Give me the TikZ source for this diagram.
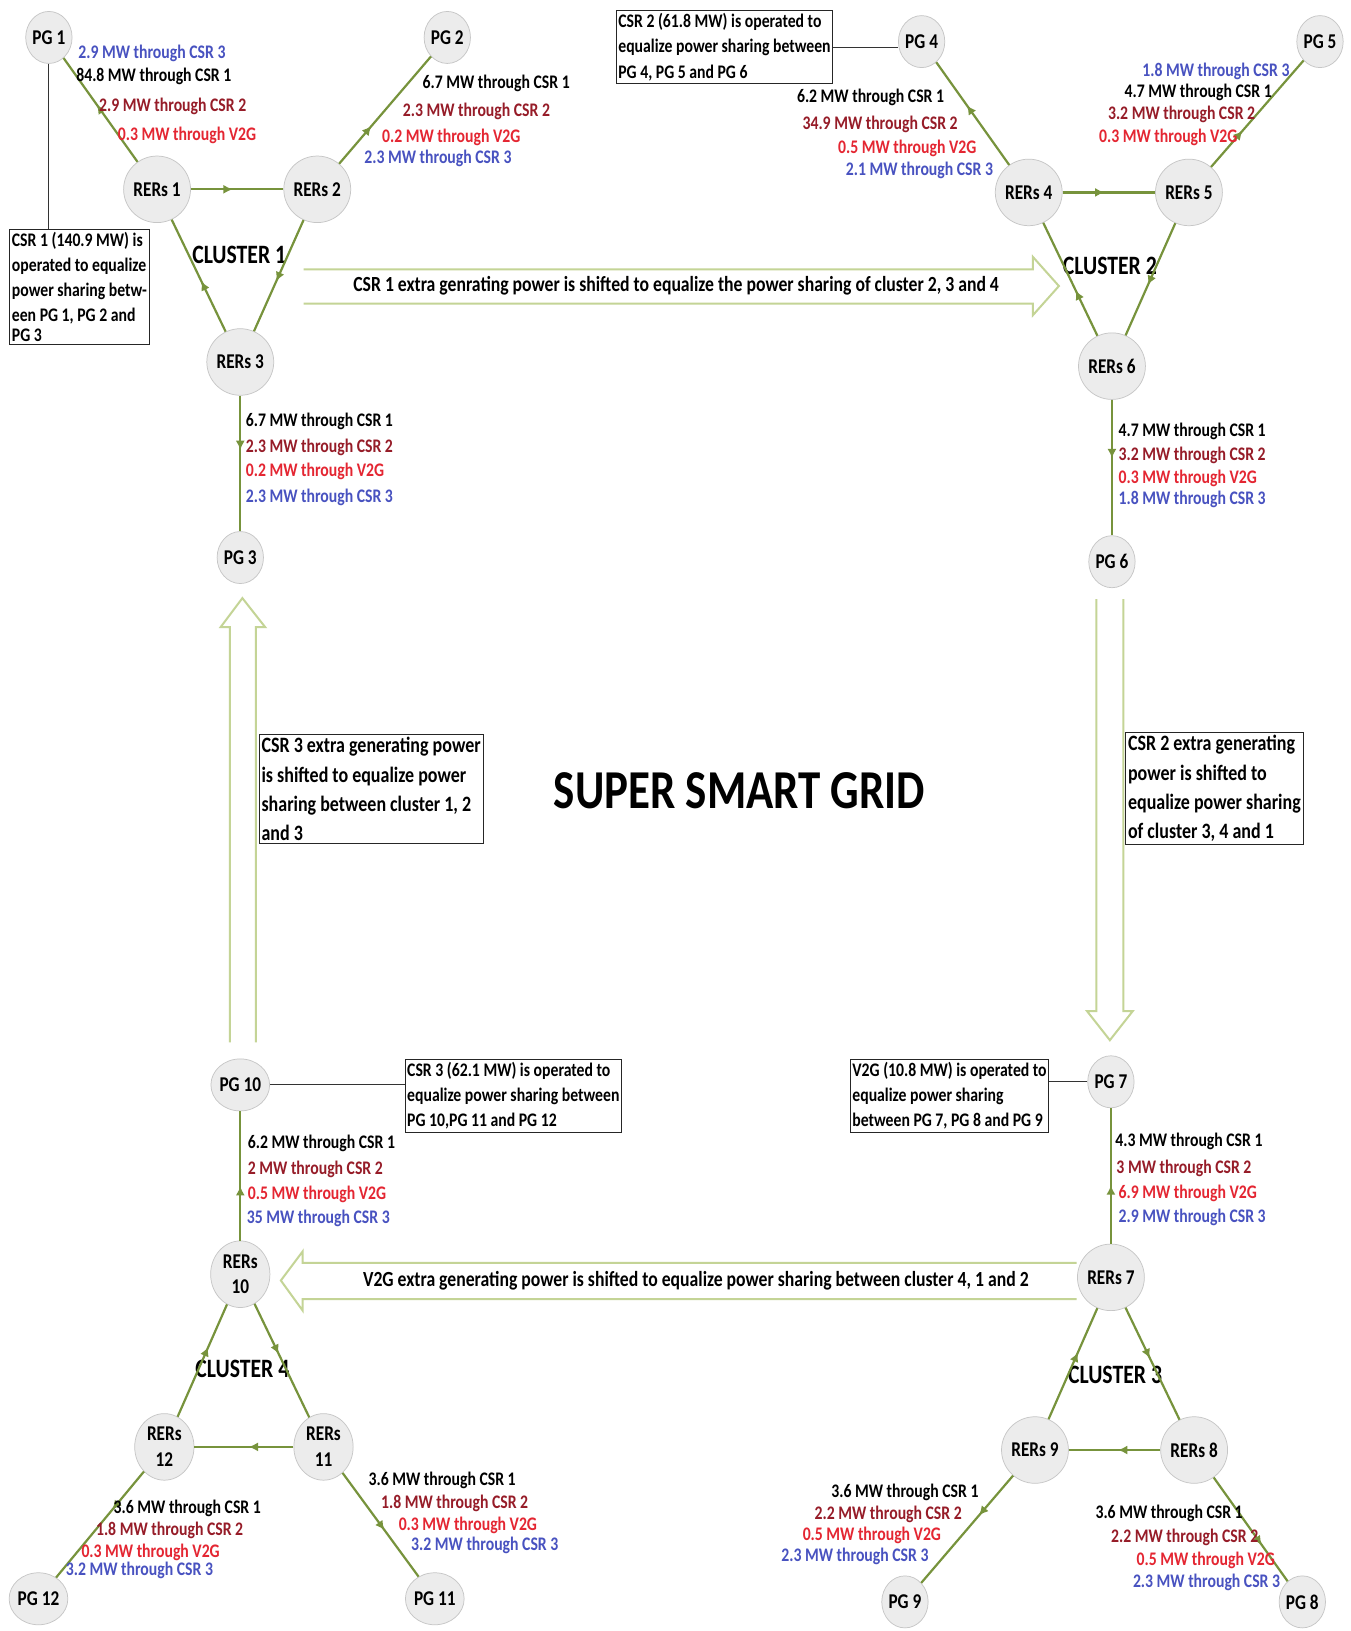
\documentclass[tikz,border=0pt]{standalone}
\usepackage{fontspec}
\setmainfont{Carlito}[FakeStretch=0.82]
\usetikzlibrary{shapes.geometric,decorations.markings,arrows.meta}
\definecolor{linegreen}{RGB}{119,147,60}
\definecolor{blockgreen}{RGB}{196,212,150}
\definecolor{csrtwo}{RGB}{150,28,40}
\definecolor{vtwog}{RGB}{228,38,50}
\definecolor{csrthree}{RGB}{72,82,192}
\definecolor{nodegray}{RGB}{236,236,236}

\begin{document}
\begin{tikzpicture}[x=0.02cm,y=-0.02cm]
    \tikzstyle{pg}=[ellipse, draw=gray!45, fill=nodegray, minimum width=0.86cm, minimum height=1cm, inner sep=0pt, font=\fontsize{11.5}{12}\selectfont\bfseries]
    \tikzstyle{rers}=[pg, minimum width=1.14cm, minimum height=1.28cm]
    \tikzstyle{mw}=[inner sep=0pt, font=\fontsize{10.5}{12}\selectfont\bfseries]
    \tikzstyle{note}=[draw=black!85, align=left, inner xsep=1.2pt, inner ysep=1.5pt, font=\fontsize{10.5}{13.8}\selectfont\bfseries]
    \tikzstyle{bignote}=[note, font=\fontsize{12}{16}\selectfont\bfseries]
    \tikzstyle{shifttext}=[inner sep=0pt, font=\fontsize{11.8}{13}\selectfont\bfseries]
    \tikzstyle{cluster}=[inner sep=0pt, font=\fontsize{14.5}{18}\selectfont\bfseries]
    \tikzstyle{blockarrow}=[draw=blockgreen, line width=1.1pt, line join=miter]
    \tikzstyle{tie}=[draw=black!80, line width=0.6pt]
    \tikzset{flow/.style={color=linegreen, line width=1.2pt, postaction={decorate},
      decoration={markings, mark=at position #1 with {\arrow{Latex[length=5pt,width=5pt]}}}},
      flow/.default=0.5}
    \path[fill=white] (0,0) rectangle (1298,1568);
    \useasboundingbox (0,0) rectangle (1298,1568);

    % cluster 1
    \node[pg] (p1) at (47,36) {PG 1};
    \node[pg] (p2) at (430,36) {PG 2};
    \node[rers] (r1) at (151,182) {RERs 1};
    \node[rers] (r2) at (305,182) {RERs 2};
    \node[rers] (r3) at (231,348) {RERs 3};
    \node[pg] (p3) at (231,536) {PG 3};
    \node[cluster] (c1) at (230,245) {CLUSTER 1};
    \draw[flow=0.55] (r1) -- (p1);
    \draw[flow=0.35] (r2) -- (p2);
    \draw[flow=0.45] (r1) -- (r2);
    \draw[flow=0.55] (r2) -- (r3);
    \draw[flow=0.45] (r3) -- (r1);
    \draw[flow=0.4] (r3) -- (p3);

    % cluster 2
    \node[pg] (p4) at (886,40) {PG 4};
    \node[pg] (p5) at (1269,40) {PG 5};
    \node[rers] (r4) at (989,185) {RERs 4};
    \node[rers] (r5) at (1143,185) {RERs 5};
    \node[rers] (r6) at (1069,352) {RERs 6};
    \node[pg] (p6) at (1069,540) {PG 6};
    \node[cluster] (c2) at (1067,256) {CLUSTER 2};
    \draw[flow=0.58] (r4) -- (p4);
    \draw[flow=0.34] (r5) -- (p5);
    \draw[flow=0.45] (r4) -- (r5);
    \draw[flow=0.55] (r5) -- (r6);
    \draw[flow=0.4] (r6) -- (r4);
    \draw[flow=0.43] (r6) -- (p6);

    % cluster 3
    \node[pg] (p7) at (1068,1040) {PG 7};
    \node[rers] (r7) at (1068,1228) {RERs 7};
    \node[rers] (r8) at (1148,1394) {RERs 8};
    \node[rers] (r9) at (995,1394) {RERs 9};
    \node[pg] (p8) at (1252,1540) {PG 8};
    \node[pg] (p9) at (870,1540) {PG 9};
    \node[cluster] (c3) at (1072,1322) {CLUSTER 3};
    \draw[flow=0.43] (r7) -- (p7);
    \draw[flow=0.6] (r9) -- (r7);
    \draw[flow=0.45] (r7) -- (r8);
    \draw[flow=0.46] (r8) -- (r9);
    \draw[flow=0.37] (r9) -- (p9);
    \draw[flow=0.65] (r8) -- (p8);

    % cluster 4
    \node[pg] (p10) at (231,1043) {PG 10};
    \node[rers, align=center] (r10) at (231,1225) {RERs\\[2pt]10};
    \node[rers, align=center] (r11) at (311,1391) {RERs\\[2pt]11};
    \node[rers, align=center] (r12) at (158,1391) {RERs\\[2pt]12};
    \node[pg] (p11) at (418,1537) {PG 11};
    \node[pg] (p12) at (37,1537) {PG 12};
    \node[cluster] (c4) at (233,1316) {CLUSTER 4};
    \draw[flow=0.42] (r10) -- (p10);
    \draw[flow=0.62] (r12) -- (r10);
    \draw[flow=0.44] (r10) -- (r11);
    \draw[flow=0.45] (r11) -- (r12);
    \draw[flow=0.36] (r12) -- (p12);
    \draw[flow=0.55] (r11) -- (p11);

    % power flow labels
    \node[mw, anchor=west, text=csrthree] (m1a) at (75,51) {2.9 MW through CSR 3};
    \node[mw, anchor=west] (m1b) at (73,73) {84.8 MW through CSR 1};
    \node[mw, anchor=west, text=csrtwo] (m1c) at (95,102) {2.9 MW through CSR 2};
    \node[mw, anchor=west, text=vtwog] (m1d) at (113,130) {0.3 MW through V2G};

    \node[mw, anchor=west] (m2a) at (406,80) {6.7 MW through CSR 1};
    \node[mw, anchor=west, text=csrtwo] (m2b) at (387,107) {2.3 MW through CSR 2};
    \node[mw, anchor=west, text=vtwog] (m2c) at (367,132) {0.2 MW through V2G};
    \node[mw, anchor=west, text=csrthree] (m2d) at (350,152) {2.3 MW through CSR 3};

    \node[mw, anchor=west] (m3a) at (236,405) {6.7 MW through CSR 1};
    \node[mw, anchor=west, text=csrtwo] (m3b) at (236,430) {2.3 MW through CSR 2};
    \node[mw, anchor=west, text=vtwog] (m3c) at (236,453) {0.2 MW through V2G};
    \node[mw, anchor=west, text=csrthree] (m3d) at (236,478) {2.3 MW through CSR 3};

    \node[mw, anchor=east] (m4a) at (908,94) {6.2 MW through CSR 1};
    \node[mw, anchor=east, text=csrtwo] (m4b) at (921,120) {34.9 MW through CSR 2};
    \node[mw, anchor=east, text=vtwog] (m4c) at (939,143) {0.5 MW through V2G};
    \node[mw, anchor=east, text=csrthree] (m4d) at (955,164) {2.1 MW through CSR 3};

    \node[mw, anchor=east, text=csrthree] (m5a) at (1240,69) {1.8 MW through CSR 3};
    \node[mw, anchor=east] (m5b) at (1223,89) {4.7 MW through CSR 1};
    \node[mw, anchor=east, text=csrtwo] (m5c) at (1207,110) {3.2 MW through CSR 2};
    \node[mw, anchor=east, text=vtwog] (m5d) at (1190,132) {0.3 MW through V2G};

    \node[mw, anchor=west] (m6a) at (1075,415) {4.7 MW through CSR 1};
    \node[mw, anchor=west, text=csrtwo] (m6b) at (1075,438) {3.2 MW through CSR 2};
    \node[mw, anchor=west, text=vtwog] (m6c) at (1075,460) {0.3 MW through V2G};
    \node[mw, anchor=west, text=csrthree] (m6d) at (1075,480) {1.8 MW through CSR 3};

    \node[mw, anchor=west] (m7a) at (1072,1097) {4.3 MW through CSR 1};
    \node[mw, anchor=west, text=csrtwo] (m7b) at (1073,1123) {3 MW through CSR 2};
    \node[mw, anchor=west, text=vtwog] (m7c) at (1075,1147) {6.9 MW through V2G};
    \node[mw, anchor=west, text=csrthree] (m7d) at (1075,1170) {2.9 MW through CSR 3};

    \node[mw, anchor=east] (m8a) at (1195,1455) {3.6 MW through CSR 1};
    \node[mw, anchor=east, text=csrtwo] (m8b) at (1210,1478) {2.2 MW through CSR 2};
    \node[mw, anchor=east, text=vtwog] (m8c) at (1226,1500) {0.5 MW through V2G};
    \node[mw, anchor=east, text=csrthree] (m8d) at (1231,1521) {2.3 MW through CSR 3};

    \node[mw, anchor=east] (m9a) at (941,1435) {3.6 MW through CSR 1};
    \node[mw, anchor=east, text=csrtwo] (m9b) at (925,1456) {2.2 MW through CSR 2};
    \node[mw, anchor=east, text=vtwog] (m9c) at (905,1476) {0.5 MW through V2G};
    \node[mw, anchor=east, text=csrthree] (m9d) at (893,1496) {2.3 MW through CSR 3};

    \node[mw, anchor=west] (m10a) at (238,1099) {6.2 MW through CSR 1};
    \node[mw, anchor=west, text=csrtwo] (m10b) at (238,1124) {2 MW through CSR 2};
    \node[mw, anchor=west, text=vtwog] (m10c) at (238,1148) {0.5 MW through V2G};
    \node[mw, anchor=west, text=csrthree] (m10d) at (237,1171) {35 MW through CSR 3};

    \node[mw, anchor=west] (m11a) at (354,1423) {3.6 MW through CSR 1};
    \node[mw, anchor=west, text=csrtwo] (m11b) at (366,1445) {1.8 MW through CSR 2};
    \node[mw, anchor=west, text=vtwog] (m11c) at (383,1466) {0.3 MW through V2G};
    \node[mw, anchor=west, text=csrthree] (m11d) at (395,1486) {3.2 MW through CSR 3};

    \node[mw, anchor=west] (m12a) at (109,1450) {3.6 MW through CSR 1};
    \node[mw, anchor=west, text=csrtwo] (m12b) at (92,1471) {1.8 MW through CSR 2};
    \node[mw, anchor=west, text=vtwog] (m12c) at (78,1492) {0.3 MW through V2G};
    \node[mw, anchor=west, text=csrthree] (m12d) at (63,1510) {3.2 MW through CSR 3};

    % operating notes
    \node[note, anchor=north west] (csr1box) at (9,220) {CSR 1 (140.9 MW) is\\operated to equalize\\power sharing betw-\\een PG 1, PG 2 and\\[-3pt]PG 3};
    \node[note, anchor=north west] (csr2box) at (592,10) {CSR 2 (61.8 MW) is operated to\\equalize power sharing between\\PG 4, PG 5 and PG 6};
    \node[note, anchor=north west] (csr3box) at (389,1018) {CSR 3 (62.1 MW) is operated to\\equalize power sharing between\\PG 10,PG 11 and PG 12};
    \node[note, anchor=north west] (v2gbox) at (817,1018) {V2G (10.8 MW) is operated to\\equalize power sharing\\between PG 7, PG 8 and PG 9};
    \draw[tie] (p1.south) -- (p1.south |- csr1box.north);
    \draw[tie] (csr2box.east) -- (csr2box.east -| p4.west);
    \draw[tie] (p10.east) -- (p10.east -| csr3box.west);
    \draw[tie] (p7.west) -- (p7.west -| v2gbox.east);

    % shifted power between clusters
    \draw[blockarrow] (292,259) -- (993,259) -- (993,247) -- (1018,275) -- (993,303) -- (993,292) -- (292,292);
    \node[shifttext] (s1) at (650,275) {CSR 1 extra genrating power is shifted to equalize the power sharing of cluster 2, 3 and 4};
    \draw[blockarrow] (1054,576) -- (1054,972) -- (1045,972) -- (1067,1000) -- (1089,972) -- (1080,972) -- (1080,576);
    \node[bignote, anchor=north west] (s2) at (1082,704) {CSR 2 extra generating\\power is shifted to\\equalize power sharing\\of cluster 3, 4 and 1};
    \draw[blockarrow] (1035,1214) -- (291,1214) -- (291,1203) -- (270,1231) -- (291,1260) -- (291,1249) -- (1035,1249);
    \node[shifttext] (s4) at (669,1231) {V2G extra generating power is shifted to equalize power sharing between cluster 4, 1 and 2};
    \draw[blockarrow] (221,1002) -- (221,603) -- (212,603) -- (233,575) -- (255,603) -- (246,603) -- (246,1002);
    \node[bignote, anchor=north west] (s3) at (249,706) {CSR 3 extra generating power\\is shifted to equalize power\\sharing between cluster 1, 2\\and 3};

    \node[inner sep=0pt, font=\fontsize{30}{36}\selectfont\bfseries] (title) at (711,760) {SUPER SMART GRID};
\end{tikzpicture}
\end{document}
